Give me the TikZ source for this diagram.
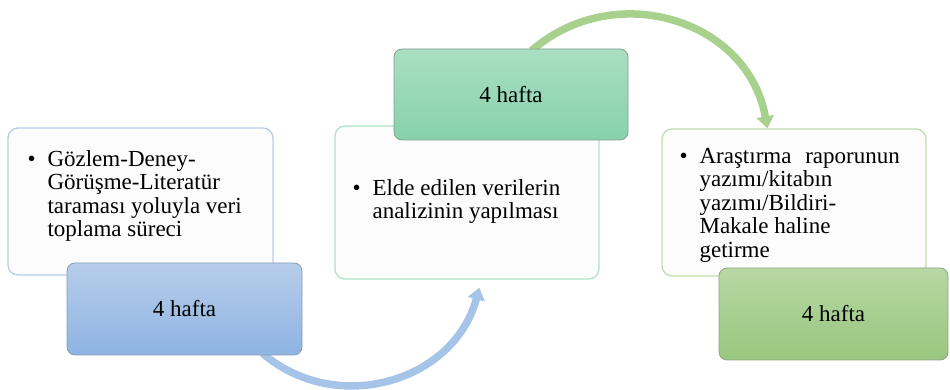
\documentclass[tikz,border=0pt]{standalone}
\usepackage{fontspec}
\setmainfont{Liberation Serif}
\usepackage{tikz}
\usetikzlibrary{arrows.meta,calc,backgrounds}
\usepackage{xcolor}
\definecolor{noteFill}{HTML}{FCFCFC}
\definecolor{noteBlue}{HTML}{B9CDE9}
\definecolor{noteMint}{HTML}{AEE2C9}
\definecolor{noteGreen}{HTML}{BFDDAB}
\definecolor{weekBlueTop}{HTML}{B6CDEA}
\definecolor{weekBlueBot}{HTML}{8EB4E2}
\definecolor{weekBlueLine}{HTML}{8A9DB6}
\definecolor{weekMintTop}{HTML}{AADFC2}
\definecolor{weekMintBot}{HTML}{86D2AA}
\definecolor{weekMintLine}{HTML}{829F8E}
\definecolor{weekGreenTop}{HTML}{B7D8A3}
\definecolor{weekGreenBot}{HTML}{98C67F}
\definecolor{weekGreenLine}{HTML}{8FA483}
\definecolor{arrowBlue}{HTML}{A6C3E8}
\definecolor{arrowGreen}{HTML}{A9D18E}

\tikzset{
  notebox/.style={draw, fill=noteFill, line width=1.3pt, rounded corners=10pt, inner sep=0pt},
  weekbox/.style={draw, line width=0.8pt, rounded corners=8pt, inner sep=0pt},
  itemtext/.style={inner sep=0pt, anchor=base west},
  flowarrow/.style={line width=7.5pt, -{Triangle[width=17pt,length=12pt]}}
}

\begin{document}
\begin{tikzpicture}[x=1pt, y=1pt, font=\fontsize{23}{23.5}\selectfont]
  \useasboundingbox (0,0) rectangle (950,390);
  % white boxes
  \node[notebox, draw=noteBlue, minimum width=265pt, minimum height=147pt] (note1) at (140.5,188.5) {};
  \node[notebox, draw=noteMint, minimum width=264pt, minimum height=153pt] (note2) at (467,187.5) {};
  \node[notebox, draw=noteGreen, minimum width=264pt, minimum height=147pt] (note3) at (794,187.5) {};
  % duration boxes
  \node[weekbox, top color=weekBlueTop, bottom color=weekBlueBot, draw=weekBlueLine,
        minimum width=235pt, minimum height=92pt] (week1) at (184.5,81) {4 hafta};
  \node[weekbox, top color=weekMintTop, bottom color=weekMintBot, draw=weekMintLine,
        minimum width=234pt, minimum height=91pt] (week2) at (511,295.5) {4 hafta};
  \node[weekbox, top color=weekGreenTop, bottom color=weekGreenBot, draw=weekGreenLine,
        minimum width=229pt, minimum height=92pt] (week3) at (833.5,76) {4 hafta};
  % texts
  \node[itemtext] (text1) at ($(note1.north west)+(20,-39)$)
    {\begin{tabular}[t]{@{}p{20pt}@{}l@{}}\textbullet & Gözlem-Deney-\\ & Görüşme-Literatür\\ & taraması yoluyla veri\\ & toplama süreci\end{tabular}};
  \node[itemtext] (text2) at ($(note2.north west)+(18,-70)$)
    {\begin{tabular}[t]{@{}p{20pt}@{}l@{}}\textbullet & Elde edilen verilerin\\ & analizinin yapılması\end{tabular}};
  \node[itemtext] (text3) at ($(note3.north west)+(18,-35)$)
    {\begin{tabular}[t]{@{}p{20pt}@{}l@{}}\textbullet & Araştırma\hspace{0.35em} raporunun\\ & yazımı/kitabın\\ & yazımı/Bildiri-\\ & Makale haline\\ & getirme\end{tabular}};
  % curved arrows
  \begin{scope}[on background layer]
    \coordinate (flow1start) at ($(week1.south west)+(196,2)$);
    \coordinate (flow1end) at ($(note2.south west)+(145,-8)$);
    \draw[flowarrow, draw=arrowBlue] (flow1start) to[out=-40.5, in=255, looseness=1.1] (flow1end);
    \coordinate (flow2start) at ($(week2.north west)+(138,-2)$);
    \coordinate (flow2end) at ($(note3.north west)+(106,0)$);
    \draw[flowarrow, draw=arrowGreen] (flow2start) to[out=41, in=100, looseness=1.14] (flow2end);
  \end{scope}
\end{tikzpicture}
\end{document}
